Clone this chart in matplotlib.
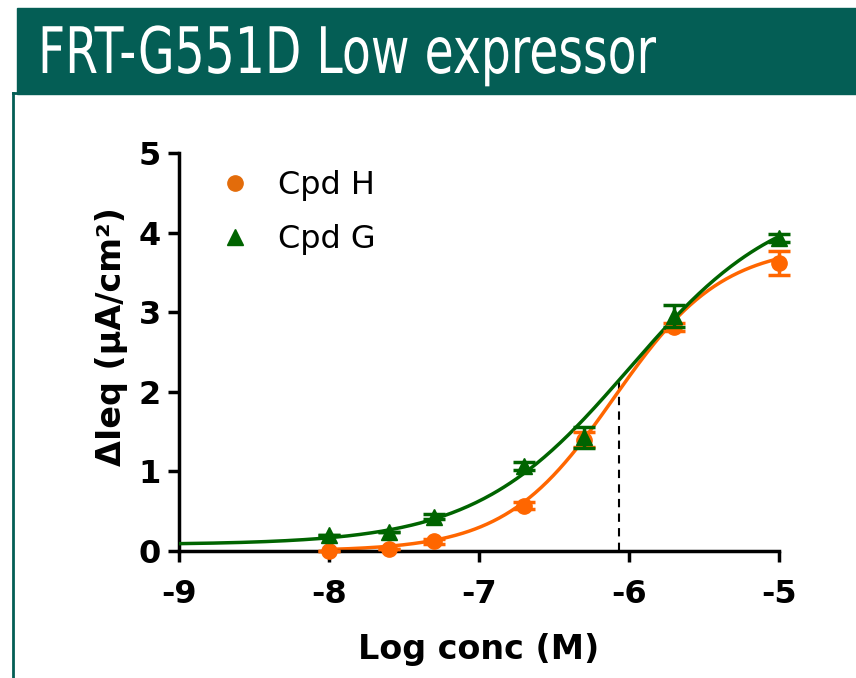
import numpy as np
import matplotlib.pyplot as plt
from matplotlib.patches import Rectangle
from matplotlib.lines import Line2D
from matplotlib import patheffects
from matplotlib.transforms import Affine2D

# log molar concentrations tested
log_conc = [-8.0, -7.6, -7.3, -6.7, -6.3, -5.7, -5.0]

# Cpd H response (mean, sem)
cpd_h = [0.0, 0.02, 0.12, 0.57, 1.40, 2.82, 3.62]
cpd_h_err = [0.0, 0.0, 0.03, 0.04, 0.09, 0.05, 0.15]

# Cpd G response (mean, sem)
cpd_g = [0.20, 0.24, 0.43, 1.07, 1.43, 2.95, 3.93]
cpd_g_err = [0.0, 0.0, 0.03, 0.05, 0.13, 0.14, 0.05]

# four-parameter logistic fits: bottom, top, logEC50, hill
fit_h = [0.0, 3.85, -6.1, 1.2]
fit_g = [0.08, 4.5, -6.0, 0.85]
ec50_line = -6.07

orange = '#FF6600'
green = '#006400'
teal = '#045E55'


def logistic(x, p):
    bottom, top, logec50, hill = p
    return bottom + (top - bottom) / (1 + 10 ** ((logec50 - x) * hill))


class Squeeze(patheffects.AbstractPathEffect):
    # condense/stretch text glyphs about a fixed pixel point
    def __init__(self, sx, sy, x0, y0):
        super().__init__()
        self.sx, self.sy = sx, sy
        self.x0, self.y0 = x0, y0

    def draw_path(self, renderer, gc, tpath, affine, rgbFace=None):
        aff = affine + (Affine2D().translate(-self.x0, -self.y0)
                        .scale(self.sx, self.sy).translate(self.x0, self.y0))
        renderer.draw_path(gc, tpath, aff, rgbFace)


fig = plt.figure(figsize=(8.56, 6.78), dpi=100)

# header band and frame
fig.patches.append(Rectangle((17 / 856, 1 - 94 / 678), 1, 86 / 678,
                             transform=fig.transFigure, color=teal, zorder=0))
fig.lines.append(Line2D([13 / 856, 13 / 856], [0, 1 - 93 / 678],
                        transform=fig.transFigure, color=teal, lw=2))
fig.lines.append(Line2D([13 / 856, 18 / 856], [1 - 93 / 678, 1 - 93 / 678],
                        transform=fig.transFigure, color=teal, lw=2))
fig.text(38 / 856, 1 - 73 / 678, 'FRT-G551D Low expressor', color='white',
         fontsize=44, family='DejaVu Sans', va='baseline', ha='left',
         path_effects=[Squeeze(0.774, 1.05, 38, 678 - 73)])

ax = fig.add_axes([179 / 856, 1 - 551 / 678, 600 / 856, 398 / 678])

xs_g = np.linspace(-9, -5, 300)
xs_h = np.linspace(-8, -5, 300)
ax.plot(xs_g, logistic(xs_g, fit_g), color=green, lw=2.5, zorder=3)
ax.plot(xs_h, logistic(xs_h, fit_h), color=orange, lw=2.5, zorder=2)

ax.errorbar(log_conc, cpd_h, yerr=cpd_h_err, fmt='o', color=orange, ms=11,
            capsize=8, capthick=2.5, elinewidth=2.5, zorder=4, clip_on=False)
ax.errorbar(log_conc, cpd_g, yerr=cpd_g_err, fmt='^', color=green, ms=11,
            capsize=8, capthick=2.5, elinewidth=2.5, zorder=5, clip_on=False)

ax.plot([ec50_line, ec50_line], [0, logistic(ec50_line, fit_g)],
        color='black', lw=1.5, ls=(0, (4, 3)), zorder=1)

ax.set_xlim(-9, -5)
ax.set_ylim(0, 5)
ax.set_xticks([-9, -8, -7, -6, -5])
ax.set_xticklabels(['-9', '-8', '-7', '-6', '-5'])
ax.set_yticks([0, 1, 2, 3, 4, 5])
for s in ['top', 'right']:
    ax.spines[s].set_visible(False)
for s in ['left', 'bottom']:
    ax.spines[s].set_linewidth(2.5)
ax.tick_params(width=2.5, length=8, labelsize=23)
ax.tick_params(axis='x', pad=12)
ax.tick_params(axis='y', pad=5)
for lbl in ax.get_xticklabels() + ax.get_yticklabels():
    lbl.set_fontweight('bold')

ax.set_xlabel('Log conc (M)', fontsize=24, fontweight='bold')
ax.set_ylabel('ΔIeq (μA/cm²)', fontsize=24, fontweight='bold')
ax.xaxis.set_label_coords(0.5, -0.205)
ax.yaxis.set_label_coords(-0.085, 0.538)

handles = [Line2D([], [], marker='o', ls='none', color='#E36C0A', ms=11),
           Line2D([], [], marker='^', ls='none', color=green, ms=11)]
ax.legend(handles, ['Cpd H', 'Cpd G'], loc='upper left', frameon=False,
          bbox_to_anchor=(0.067, 0.957), borderaxespad=0, borderpad=0,
          handlelength=1, handletextpad=0.85, labelspacing=0.73,
          prop={'family': 'DejaVu Sans', 'size': 23})

fig.savefig('out.png', dpi=100)
